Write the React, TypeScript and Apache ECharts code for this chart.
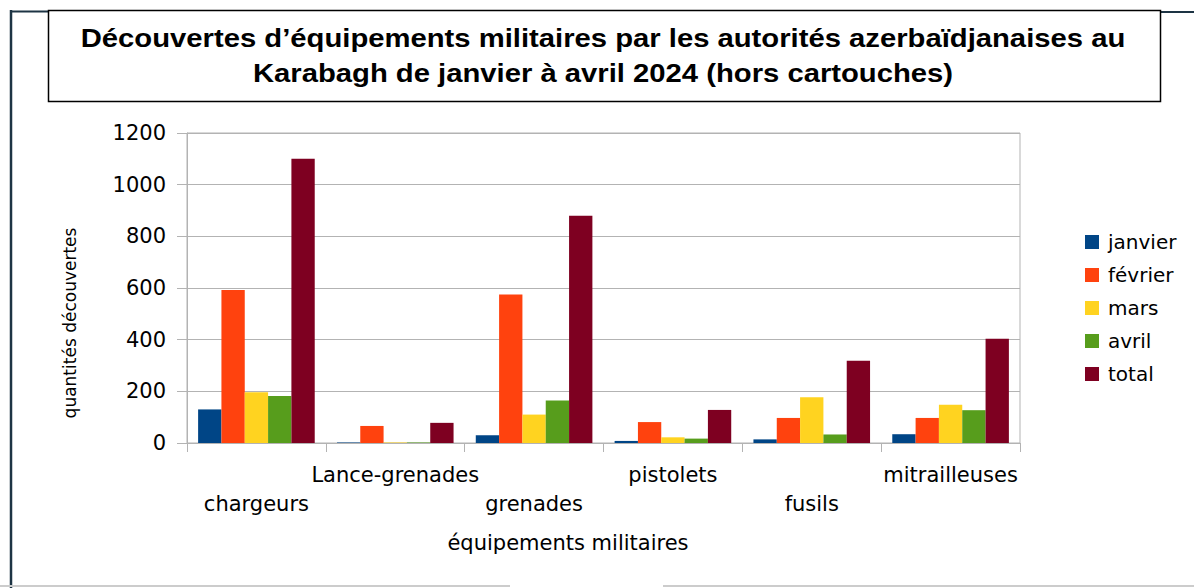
import React, { useEffect, useRef } from "react";
import * as echarts from "echarts";

const categories = ["chargeurs", "Lance-grenades", "grenades", "pistolets", "fusils", "mitrailleuses"];
const seriesNames = ["janvier", "février", "mars", "avril", "total"];
const janvier = [130, 2, 30, 8, 14, 34];
const fevrier = [592, 66, 575, 81, 97, 97];
const mars = [196, 2, 110, 22, 177, 148];
const avril = [182, 2, 165, 17, 33, 127];
const total = [1100, 78, 880, 128, 318, 404];
const colors = ["#004586", "#ff420e", "#ffd320", "#579d1c", "#7e0021"];
const titleLines = [
  "Découvertes d’équipements militaires par les autorités azerbaïdjanaises au",
  "Karabagh de janvier à avril 2024 (hors cartouches)",
];
const yAxisName = "quantités découvertes";
const xAxisName = "équipements militaires";

export default function App() {
  const ref = useRef<HTMLDivElement>(null);
  useEffect(() => {
    if (!ref.current) return;
    const chart = echarts.init(ref.current, null, { renderer: "svg" });
    const values = [janvier, fevrier, mars, avril, total];
    const font = "DejaVu Sans";
    const titleFont = "bold 25px 'Liberation Sans', Arial, sans-serif";
    chart.setOption({
      animation: false,
      backgroundColor: "#ffffff",
      color: colors,
      grid: {
        left: 187,
        right: 174,
        top: 133,
        bottom: 145,
        show: true,
        borderColor: "#b3b3b3",
        borderWidth: 1,
      },
      legend: {
        orient: "vertical",
        left: 1080,
        top: 227,
        itemWidth: 14,
        itemHeight: 14,
        itemGap: 13,
        icon: "rect",
        data: seriesNames,
        textStyle: { fontFamily: font, fontSize: 20, color: "#000", lineHeight: 20, padding: [0, 0, 0, 4] },
      },
      xAxis: {
        type: "category",
        data: categories,
        axisLine: { lineStyle: { color: "#b3b3b3", width: 1 } },
        axisTick: { show: true, length: 9, interval: 0, lineStyle: { color: "#b3b3b3" } },
        axisLabel: {
          interval: 0,
          margin: 17,
          fontFamily: font,
          fontSize: 21,
          color: "#000",
          lineHeight: 29,
          formatter: (v: string, i: number) => (i % 2 === 0 ? "\n" + v : v),
        },
      },
      yAxis: {
        type: "value",
        min: 0,
        max: 1200,
        interval: 200,
        axisLine: { show: true, lineStyle: { color: "#b3b3b3", width: 1 } },
        axisTick: { show: true, length: 10, lineStyle: { color: "#b3b3b3" } },
        splitLine: { lineStyle: { color: "#b3b3b3", width: 1 } },
        axisLabel: {
          margin: 21,
          fontFamily: font,
          fontSize: 21,
          color: "#000",
          formatter: (v: number) => String(v),
        },
      },
      series: seriesNames.map((name, k) => ({
        name,
        type: "bar",
        data: values[k],
        barGap: "0%",
        barCategoryGap: "16%",
        itemStyle: { color: colors[k] },
      })),
      graphic: [
        { type: "line", shape: { x1: 11, y1: 10, x2: 11, y2: 588 }, style: { stroke: "#1d3444", lineWidth: 2.5 } },
        { type: "line", shape: { x1: 10, y1: 11.5, x2: 48, y2: 11.5 }, style: { stroke: "#1d3444", lineWidth: 2 } },
        { type: "line", shape: { x1: 1160, y1: 12, x2: 1194, y2: 12 }, style: { stroke: "#1d3444", lineWidth: 2 } },
        { type: "line", shape: { x1: 0, y1: 586, x2: 510, y2: 586 }, style: { stroke: "#cccccc", lineWidth: 2 } },
        { type: "line", shape: { x1: 663, y1: 586, x2: 1194, y2: 586 }, style: { stroke: "#cccccc", lineWidth: 2 } },
        {
          type: "rect",
          shape: { x: 48.5, y: 10.5, width: 1112, height: 91 },
          style: { fill: "#ffffff", stroke: "#000000", lineWidth: 1.5 },
        },
        {
          type: "text",
          x: 603,
          y: 38,
          scaleX: 1.17,
          style: {
            text: titleLines[0],
            font: titleFont,
            fill: "#000",
            align: "center",
            verticalAlign: "middle",
          },
        },
        {
          type: "text",
          x: 603,
          y: 73,
          scaleX: 1.17,
          style: {
            text: titleLines[1],
            font: titleFont,
            fill: "#000",
            align: "center",
            verticalAlign: "middle",
          },
        },
        {
          type: "text",
          x: 70,
          y: 323,
          rotation: Math.PI / 2,
          style: {
            text: yAxisName,
            font: "17px 'DejaVu Sans'",
            fill: "#000",
            align: "center",
            verticalAlign: "middle",
          },
        },
        {
          type: "text",
          x: 568,
          y: 543,
          style: {
            text: xAxisName,
            font: "21px 'DejaVu Sans'",
            fill: "#000",
            align: "center",
            verticalAlign: "middle",
          },
        },
      ],
    });
    return () => chart.dispose();
  }, []);
  return <div ref={ref} style={{ position: "fixed", left: 0, top: 0, width: 1194, height: 588 }} />;
}
